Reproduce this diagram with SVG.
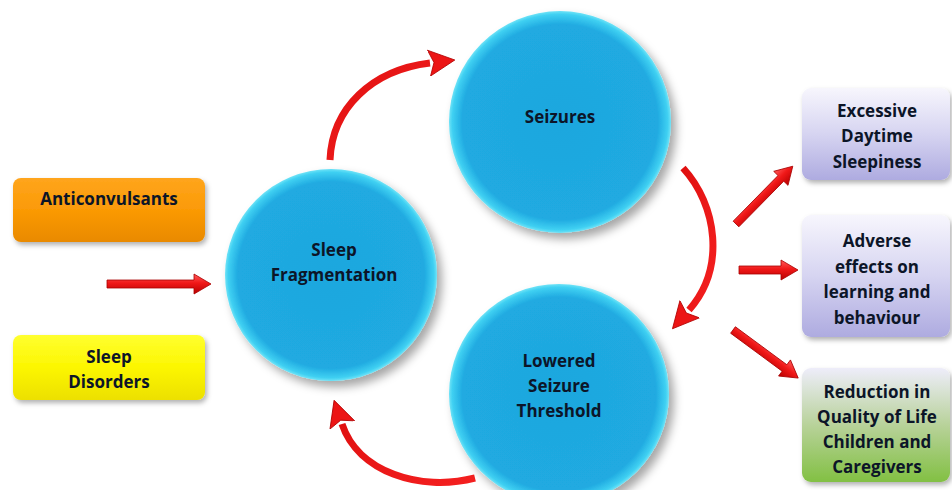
<svg xmlns="http://www.w3.org/2000/svg" width="952" height="490" viewBox="0 0 952 490">
<defs>
<style>
.t{font-family:"Open Sans","Liberation Sans",sans-serif;font-weight:700;font-size:17px;fill:#0c1528;text-anchor:middle}
.arr{fill:url(#redg);stroke:#a80000;stroke-width:0.8}
.curve{fill:none;stroke:url(#redc);stroke-width:7;stroke-linecap:butt}
</style>
<filter id="sh" x="-20%" y="-20%" width="150%" height="150%">
<feDropShadow dx="5" dy="6" stdDeviation="5" flood-color="#000" flood-opacity="0.35"/>
</filter>
<filter id="bsh" x="-10%" y="-10%" width="130%" height="140%">
<feDropShadow dx="2" dy="3" stdDeviation="2.5" flood-color="#000" flood-opacity="0.3"/>
</filter>
<radialGradient id="circ" cx="0.5" cy="0.5" r="0.5">
<stop offset="0" stop-color="#1ea7de"/>
<stop offset="0.88" stop-color="#20aae1"/>
<stop offset="0.97" stop-color="#3fd0f2"/>
<stop offset="1" stop-color="#6fe3f7"/>
</radialGradient>
<linearGradient id="org" x1="0" y1="0" x2="0" y2="1">
<stop offset="0" stop-color="#ffa51c"/>
<stop offset="0.5" stop-color="#fb9a06"/>
<stop offset="1" stop-color="#e98a00"/>
</linearGradient>
<linearGradient id="yel" x1="0" y1="0" x2="0" y2="1">
<stop offset="0" stop-color="#ffff30"/>
<stop offset="0.5" stop-color="#fcf600"/>
<stop offset="1" stop-color="#ece000"/>
</linearGradient>
<linearGradient id="lav" x1="0" y1="0" x2="0" y2="1">
<stop offset="0" stop-color="#f7f6fd"/>
<stop offset="0.5" stop-color="#d6d4f1"/>
<stop offset="1" stop-color="#aeabe0"/>
</linearGradient>
<linearGradient id="grn" x1="0" y1="0" x2="0" y2="1">
<stop offset="0" stop-color="#eeedfa"/>
<stop offset="0.5" stop-color="#b8d29a"/>
<stop offset="1" stop-color="#82c043"/>
</linearGradient>
<linearGradient id="redg" x1="0" y1="0" x2="0" y2="1">
<stop offset="0" stop-color="#ff5a5a"/>
<stop offset="0.45" stop-color="#f01818"/>
<stop offset="1" stop-color="#b80000"/>
</linearGradient>
<linearGradient id="redc" x1="0" y1="0" x2="1" y2="1">
<stop offset="0" stop-color="#e01010"/>
<stop offset="1" stop-color="#f42020"/>
</linearGradient>
<marker id="head" markerUnits="userSpaceOnUse" markerWidth="28" markerHeight="30" refX="1" refY="14" orient="auto" viewBox="0 0 28 28">
<path d="M0,1 L26,14 L0,27 L5,14 Z" fill="#ec1515" stroke="#b00000" stroke-width="0.8"/>
</marker>
</defs>

<g id="connectors">
<path class="curve" d="M330,160 C332,108 372,70 430,63" marker-end="url(#head)"/>
<path class="curve" d="M683,168 C717,205 726,268 689,310" marker-end="url(#head)"/>
<path class="curve" d="M475,478 C420,492 358,472 342,424" marker-end="url(#head)"/>
<g transform="translate(107,284)"><path class="arr" d="M0,-4 L87,-4 L87,-10 L104,0 L87,10 L87,4 L0,4 Z"/></g>
<g transform="translate(736,224) rotate(-45.5)"><path class="arr" d="M0,-4 L64,-4 L64,-10 L81,0 L64,10 L64,4 L0,4 Z"/></g>
<g transform="translate(739,270)"><path class="arr" d="M0,-4 L42,-4 L42,-10 L59,0 L42,10 L42,4 L0,4 Z"/></g>
<g transform="translate(733,330) rotate(36.4)"><path class="arr" d="M0,-4 L64,-4 L64,-10 L81,0 L64,10 L64,4 L0,4 Z"/></g>
</g>

<g id="anticonvulsants">
<rect x="13" y="178" width="192" height="64" rx="8" fill="url(#org)" filter="url(#bsh)"/>
<text class="t" x="109" y="205">Anticonvulsants</text>
</g>
<g id="sleep-disorders">
<rect x="13" y="335" width="192" height="65" rx="8" fill="url(#yel)" filter="url(#bsh)"/>
<text class="t" x="109" y="363">Sleep</text>
<text class="t" x="109" y="388">Disorders</text>
</g>

<g id="seizures">
<circle cx="560" cy="122" r="111" fill="url(#circ)" filter="url(#sh)"/>
<text class="t" x="560" y="123">Seizures</text>
</g>
<g id="sleep-fragmentation">
<circle cx="331" cy="275" r="106" fill="url(#circ)" filter="url(#sh)"/>
<text class="t" x="334" y="256">Sleep</text>
<text class="t" x="334" y="281">Fragmentation</text>
</g>
<g id="lowered-seizure-threshold">
<circle cx="559" cy="394" r="110" fill="url(#circ)" filter="url(#sh)"/>
<text class="t" x="559" y="367">Lowered</text>
<text class="t" x="559" y="392">Seizure</text>
<text class="t" x="559" y="417">Threshold</text>
</g>

<g id="excessive-daytime-sleepiness">
<rect x="802" y="88" width="148" height="92" rx="9" fill="url(#lav)" filter="url(#bsh)"/>
<text class="t" x="877" y="117">Excessive</text>
<text class="t" x="877" y="142">Daytime</text>
<text class="t" x="877" y="168">Sleepiness</text>
</g>
<g id="adverse-effects">
<rect x="802" y="215" width="148" height="122" rx="9" fill="url(#lav)" filter="url(#bsh)"/>
<text class="t" x="877" y="247">Adverse</text>
<text class="t" x="877" y="273">effects on</text>
<text class="t" x="877" y="298">learning and</text>
<text class="t" x="877" y="324">behaviour</text>
</g>
<g id="reduction-quality-of-life">
<rect x="802" y="368" width="148" height="114" rx="9" fill="url(#grn)" filter="url(#bsh)"/>
<text class="t" x="877" y="398">Reduction in</text>
<text class="t" x="877" y="423">Quality of Life</text>
<text class="t" x="877" y="448">Children and</text>
<text class="t" x="877" y="473">Caregivers</text>
</g>
</svg>
